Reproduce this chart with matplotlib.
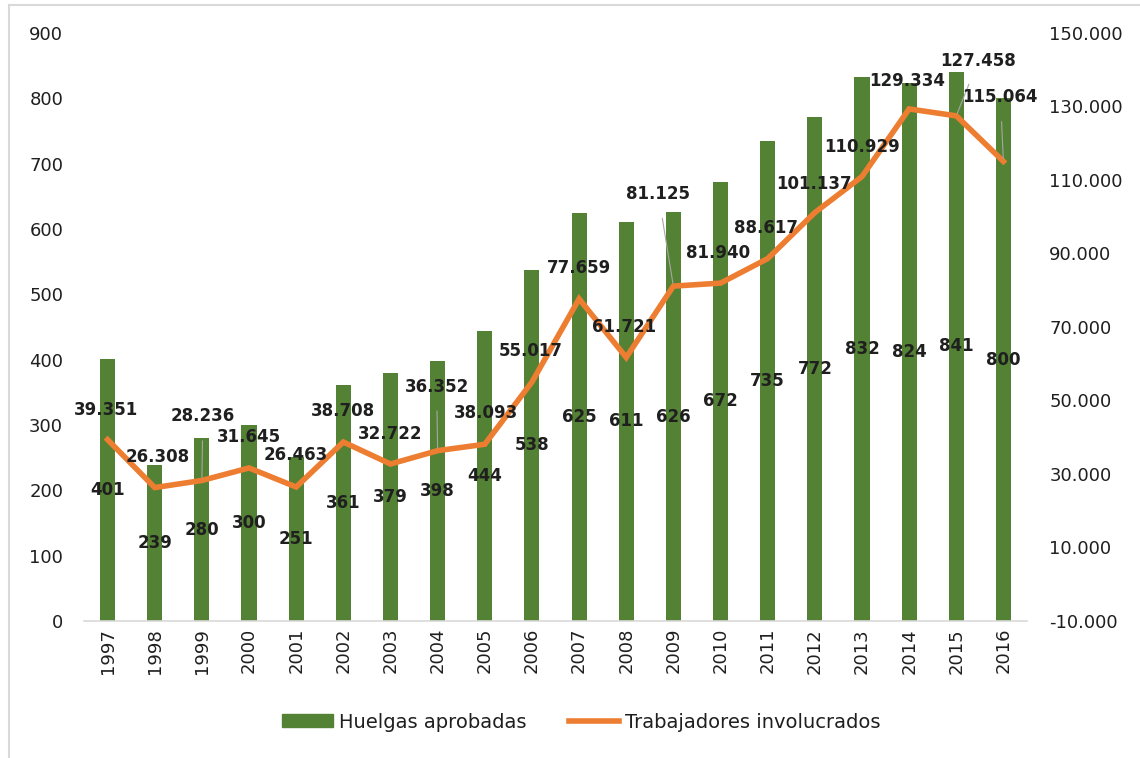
import matplotlib
matplotlib.use("Agg")
import matplotlib.pyplot as plt
from matplotlib.lines import Line2D
from matplotlib.patches import Patch
from matplotlib.ticker import FuncFormatter

years = ["1997", "1998", "1999", "2000", "2001", "2002", "2003", "2004", "2005", "2006",
         "2007", "2008", "2009", "2010", "2011", "2012", "2013", "2014", "2015", "2016"]
huelgas = [401, 239, 280, 300, 251, 361, 379, 398, 444, 538,
           625, 611, 626, 672, 735, 772, 832, 824, 841, 800]
trabajadores = [39351, 26308, 28236, 31645, 26463, 38708, 32722, 36352, 38093, 55017,
                77659, 61721, 81125, 81940, 88617, 101137, 110929, 129334, 127458, 115064]

# label offsets (pixels) for the line labels, and whether a leader line is drawn
line_offsets = [(-2, 30), (3, 31), (1, 64), (0, 31), (0, 32), (0, 31), (0, 30), (-1, 64),
                (1, 31), (-1, 31), (0, 31), (-2, 30), (-15, 92), (-2, 30), (-2, 31),
                (-1, 29), (0, 30), (-2, 28), (22, 55), (-3, 64)]
leaders = [False, False, True, False, False, False, False, True, False, False,
           False, False, True, False, False, False, False, False, True, True]

GREEN = "#548235"
ORANGE = "#ED7D31"
TXT = "#1f1f1f"

def fmt_thousands(v):
    s = f"{abs(int(round(v))):,}".replace(",", ".")
    return ("-" if v < 0 else "") + s

fig = plt.figure(figsize=(11.4, 7.58), dpi=100)
ax = fig.add_axes([84 / 1140, 1 - 621 / 758, (1027 - 84) / 1140, (621 - 33) / 758])
ax2 = ax.twinx()

x = list(range(len(years)))
ax.bar(x, huelgas, width=0.32, color=GREEN, zorder=2)
ax.set_ylim(0, 900)
ax.set_xlim(-0.5, len(years) - 0.5)
ax.set_yticks(range(0, 901, 100))
ax.set_xticks(x)
ax.set_xticklabels(years, rotation=90, fontsize=13, color=TXT)
ax.tick_params(axis="y", length=0, pad=15, labelsize=13, labelcolor=TXT)
ax.tick_params(axis="x", length=0, pad=5)

ax2.plot(x, trabajadores, color=ORANGE, lw=4, solid_joinstyle="miter", zorder=3)
ax2.set_ylim(-10000, 150000)
ax2.set_yticks(range(-10000, 150001, 20000))
ax2.yaxis.set_major_formatter(FuncFormatter(lambda v, p: fmt_thousands(v)))
ax2.tick_params(axis="y", length=0, pad=16, labelsize=13, labelcolor=TXT)

for a in (ax, ax2):
    for s in ("top", "left", "right"):
        a.spines[s].set_visible(False)
    a.spines["bottom"].set_color("#d9d9d9")
    a.spines["bottom"].set_linewidth(1.2)
ax2.spines["bottom"].set_visible(False)

# bar labels centered in bars
for xi, v in zip(x, huelgas):
    ax.text(xi, v / 2, str(v), ha="center", va="center", fontsize=12,
            fontweight="bold", color=TXT, zorder=5)

# line labels
for xi, v, off, ld in zip(x, trabajadores, line_offsets, leaders):
    ax2.annotate(fmt_thousands(v), xy=(xi, v), xytext=off, textcoords="offset pixels",
                 ha="center", va="center", fontsize=12, fontweight="bold", color=TXT,
                 zorder=6,
                 arrowprops=(dict(arrowstyle="-", color="#a6a6a6", lw=0.8,
                                  shrinkA=9, shrinkB=2) if ld else None))

handles = [Patch(facecolor=GREEN, edgecolor=GREEN),
           Line2D([0], [0], color=ORANGE, lw=4)]
fig.legend(handles, ["Huelgas aprobadas", "Trabajadores involucrados"],
           loc="center", bbox_to_anchor=(0.51, 1 - 722 / 758), ncol=2, frameon=False,
           fontsize=14, labelcolor=TXT, handlelength=2.6, handleheight=0.6,
           handletextpad=0.3, columnspacing=2.2)

# light frame on top and left
fig.add_artist(Line2D([9 / 1140, 9 / 1140], [0, 1 - 5 / 758], color="#d9d9d9", lw=1.5,
                      transform=fig.transFigure))
fig.add_artist(Line2D([9 / 1140, 1], [1 - 5 / 758, 1 - 5 / 758], color="#d9d9d9", lw=1.5,
                      transform=fig.transFigure))

fig.savefig("out.png", dpi=100, facecolor="white")
